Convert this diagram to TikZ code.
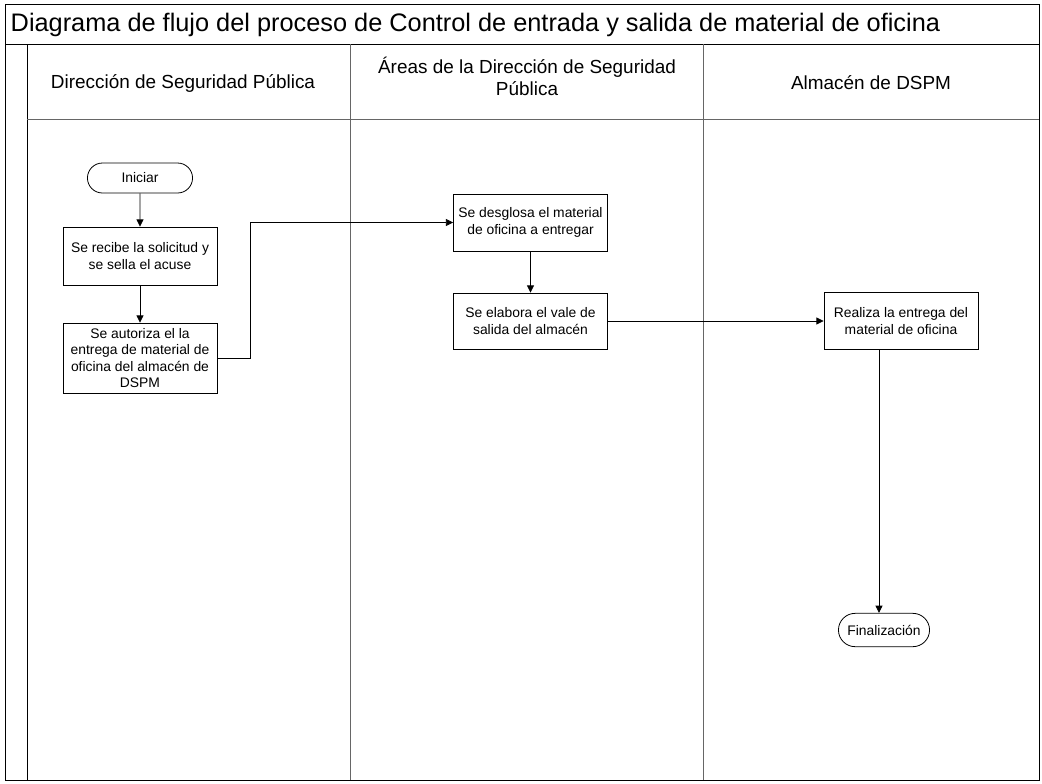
\documentclass[tikz,border=0pt]{standalone}
\usepackage{fontspec}
\setmainfont{Liberation Sans}
\usetikzlibrary{arrows.meta, shapes.misc}

\begin{document}
\begin{tikzpicture}[x=0.75pt,y=0.75pt,yscale=-1,xscale=1,
    proc/.style={draw, line width=0.6pt, minimum width=115.5pt, align=center, inner sep=2pt, font=\fontsize{10.4}{12.2}\selectfont},
    term/.style={draw, line width=0.6pt, rounded rectangle, align=center, font=\fontsize{10.4}{12.2}\selectfont},
    lane/.style={align=center, font=\fontsize{14.2}{16.5}\selectfont},
    flow/.style={line width=0.6pt, -{Triangle[length=5.4pt, width=5.2pt]}},
    divider/.style={draw=black!60, line width=0.6pt}]
    \useasboundingbox (0,0) rectangle (1042,783);

    %Frame and title
    \draw [line width=0.7pt] (5,4) rectangle (1039,780);
    \draw [line width=0.7pt] (5,44) -- (1039,44);
    \node (title) [anchor=west, font=\fontsize{19}{22}\selectfont] at (6,25) {Diagrama de flujo del proceso de Control de entrada y salida de material de oficina};

    %Lanes
    \draw [line width=0.6pt] (27,44) -- (27,780);
    \draw [divider] (27,119) -- (1039,119);
    \draw [divider] (350,44) -- (350,780);
    \draw [divider] (703,44) -- (703,780);
    \node (laneA) [lane] at (183,83) {Dirección de Seguridad Pública};
    \node (laneB) [lane] at (527,76) {Áreas de la Dirección de Seguridad\\Pública};
    \node (laneC) [lane] at (871,83) {Almacén de DSPM};

    % Text Node
    \node (iniciar) [term, minimum width=85.5pt, minimum height=22.5pt] at (140,178) {Iniciar};
    % Text Node
    \node (recibe) [proc, minimum height=43.5pt] at (140,256) {Se recibe la solicitud y\\se sella el acuse};
    % Text Node
    \node (autoriza) [proc, minimum height=52.5pt] at (140,358) {Se autoriza el la\\entrega de material de\\oficina del almacén de\\DSPM};
    % Text Node
    \node (desglosa) [proc, minimum height=42.75pt] at (530.5,222.5) {Se desglosa el material\\de oficina a entregar};
    % Text Node
    \node (elabora) [proc, minimum height=42pt] at (530.5,321) {Se elabora el vale de\\salida del almacén};
    % Text Node
    \node (realiza) [proc, minimum height=42.75pt] at (901,321) {Realiza la entrega del\\material de oficina};
    % Text Node
    \node (fin) [term, minimum width=75pt, minimum height=25pt] at (884,630) {Finalización};

    %Connectors
    \draw [flow] (iniciar) -- (recibe);
    \draw [flow] (recibe) -- (autoriza);
    \draw [flow] (autoriza.east) -- ++(33,0) |- (desglosa.west);
    \draw [flow] (desglosa) -- (elabora);
    \draw [flow] (elabora) -- (realiza);
    \draw [flow] (realiza.south -| 879,0) -- (fin.north -| 879,0);

\end{tikzpicture}
\end{document}
